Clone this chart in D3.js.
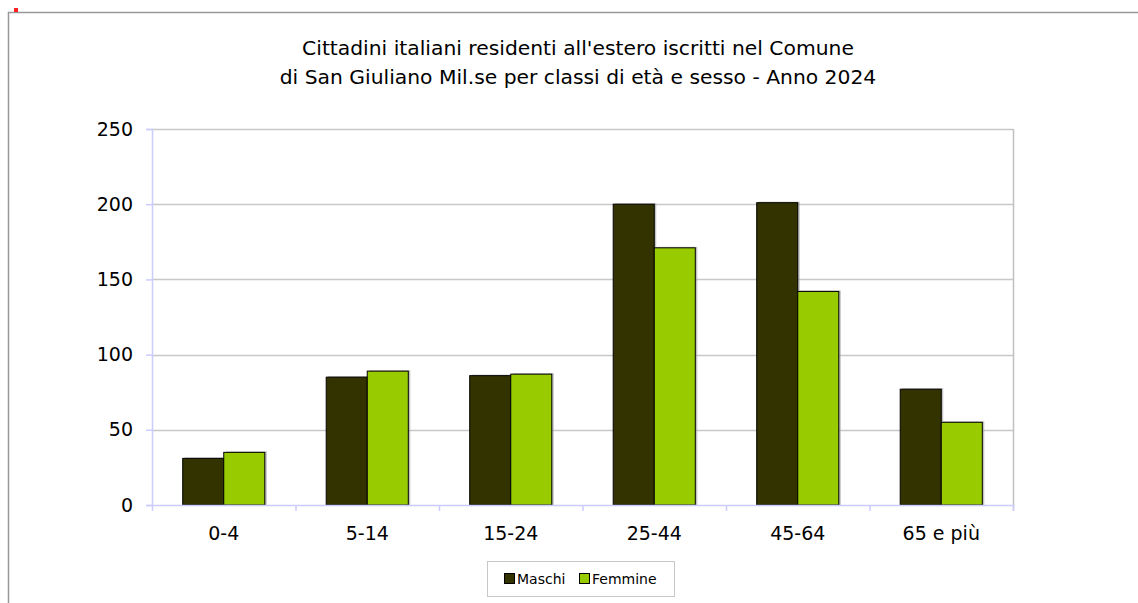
<!DOCTYPE html>
<html>
<head>
<meta charset="utf-8">
<script src="https://cdn.jsdelivr.net/npm/d3@7"></script>
<style>
  body { margin: 0; background: #fff; }
  text { font-family: "DejaVu Sans", Verdana, sans-serif; fill: #000; }
</style>
</head>
<body>
<svg id="chart" width="1138" height="603"></svg>
<script>
const categories = ['0-4', '5-14', '15-24', '25-44', '45-64', '65 e più']
const seriesNames = ['Maschi', 'Femmine']
const maschi = [31, 85, 86, 200, 201, 77]
const femmine = [35, 89, 87, 171, 142, 55]
const yTicks = [0, 50, 100, 150, 200, 250]
const titleLines = [
  'Cittadini italiani residenti all\'estero iscritti nel Comune',
  'di San Giuliano Mil.se per classi di età e sesso - Anno 2024'
]

const colors = ['#333300', '#99cc00']
const tickFont = '"DejaVu Sans Condensed", "DejaVu Sans", sans-serif'
const svg = d3.select('#chart')

// outer frame
svg.append('path')
  .attr('d', 'M8.5,603 L8.5,12.5 L1138,12.5')
  .attr('fill', 'none').attr('stroke', '#999').attr('stroke-width', 1.5)
svg.append('rect').attr('x', 14).attr('y', 8).attr('width', 4).attr('height', 4).attr('fill', '#f22')

const plot = { left: 152, right: 1013, top: 129, bottom: 505 }

const x0 = d3.scaleBand().domain(categories).range([plot.left, plot.right])
const y = d3.scaleLinear().domain([0, 250]).range([plot.bottom, plot.top])
const barW = x0.bandwidth() * 0.286

// title
svg.append('g').selectAll('text')
  .data(titleLines).enter().append('text')
  .attr('x', 578).attr('y', (d, i) => 55 + i * 29)
  .attr('text-anchor', 'middle')
  .attr('font-size', '20.3px')
  .text(d => d)

// gridlines
svg.append('g').selectAll('line')
  .data(yTicks.filter(d => d > 0)).enter().append('line')
  .attr('x1', plot.left).attr('x2', plot.right)
  .attr('y1', d => Math.round(y(d)) + 0.5).attr('y2', d => Math.round(y(d)) + 0.5)
  .attr('stroke', '#c8c8c8').attr('stroke-width', 1.5)

// right border of plot area
svg.append('line')
  .attr('x1', plot.right + 0.5).attr('x2', plot.right + 0.5)
  .attr('y1', plot.top).attr('y2', plot.bottom + 6)
  .attr('stroke', '#c0c0c0').attr('stroke-width', 1.5)

// y axis
const yAxis = svg.append('g')
  .attr('transform', `translate(${plot.left},0)`)
  .call(d3.axisLeft(y).tickValues(yTicks).tickSize(6).tickPadding(13))
yAxis.select('.domain').attr('stroke', '#ccccff').attr('stroke-width', 1.5)
yAxis.selectAll('.tick line').attr('stroke', '#ccccff').attr('stroke-width', 1.5)
yAxis.selectAll('.tick text').attr('font-size', '19px').attr('font-family', tickFont).attr('fill', '#000')

// bars
const groups = svg.append('g').selectAll('g')
  .data(categories).enter().append('g')
  .attr('transform', d => `translate(${x0(d) + x0.bandwidth() / 2},0)`)

const barData = (d, i) => [maschi[i], femmine[i]]
// shadow
groups.selectAll('rect.shadow')
  .data(barData).enter().append('rect')
  .attr('class', 'shadow')
  .attr('x', (v, j) => (j - 1) * barW + 2)
  .attr('y', v => y(v) - 1)
  .attr('width', barW)
  .attr('height', v => plot.bottom - y(v) + 1)
  .attr('fill', '#999').attr('opacity', 0.6)
groups.selectAll('rect.bar')
  .data(barData).enter().append('rect')
  .attr('class', 'bar')
  .attr('x', (v, j) => (j - 1) * barW)
  .attr('y', v => y(v))
  .attr('width', barW)
  .attr('height', v => plot.bottom - y(v))
  .attr('fill', (v, j) => colors[j])
  .attr('stroke', '#000').attr('stroke-width', 1)

// x axis
const xAxis = svg.append('g')
  .attr('transform', `translate(0,${plot.bottom})`)
  .call(d3.axisBottom(x0).tickSize(0).tickPadding(22))
xAxis.select('.domain').attr('stroke', '#ccccff').attr('stroke-width', 1.5)
xAxis.selectAll('.tick text').attr('font-size', '19px').attr('font-family', tickFont).attr('fill', '#000')
// category boundary ticks
svg.append('g').selectAll('line')
  .data(categories.concat([null])).enter().append('line')
  .attr('x1', (d, i) => plot.left + i * x0.bandwidth() + 0.5)
  .attr('x2', (d, i) => plot.left + i * x0.bandwidth() + 0.5)
  .attr('y1', plot.bottom).attr('y2', plot.bottom + 6)
  .attr('stroke', '#ccccff').attr('stroke-width', 1.5)

// legend
const legend = svg.append('g')
legend.append('rect')
  .attr('x', 487.5).attr('y', 561.5).attr('width', 187).attr('height', 35)
  .attr('fill', '#fff').attr('stroke', '#c8c8c8')
const legendX = [504, 579]
seriesNames.forEach((name, i) => {
  legend.append('rect')
    .attr('x', legendX[i] + 0.5).attr('y', 573.5).attr('width', 10).attr('height', 10)
    .attr('fill', colors[i]).attr('stroke', '#000')
  legend.append('text')
    .attr('x', legendX[i] + 13).attr('y', 584)
    .attr('font-size', '14px')
    .attr('font-family', tickFont)
    .text(name)
})
</script>
</body>
</html>
